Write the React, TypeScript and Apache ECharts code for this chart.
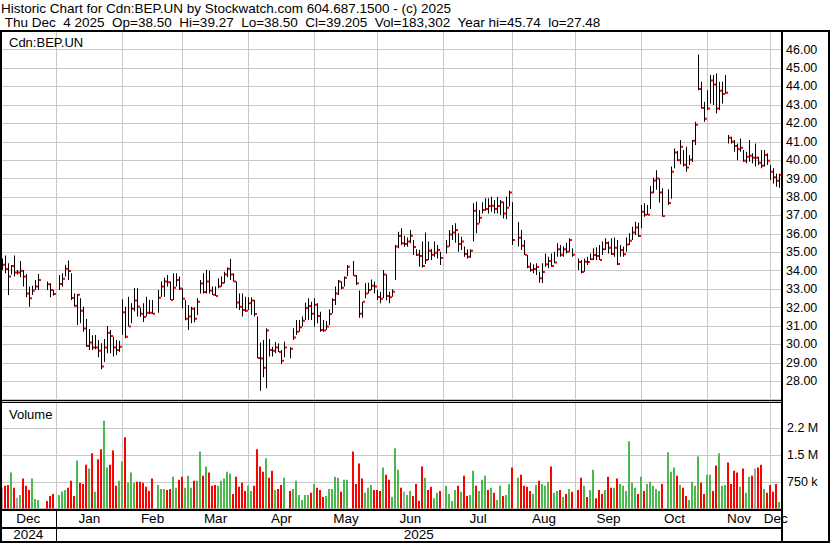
import React, { useEffect, useRef } from "react";
import * as echarts from "echarts";

const FONT = '"Liberation Sans", Arial, Helvetica, sans-serif';

const TITLE_LINE = "Historic Chart for Cdn:BEP.UN by Stockwatch.com 604.687.1500 - (c) 2025";
const INFO_LINE =
  "\u00a0Thu Dec\u00a0 4 2025\u00a0 Op=38.50\u00a0 Hi=39.27\u00a0 Lo=38.50\u00a0 Cl=39.205\u00a0 Vol=183,302\u00a0 Year hi=45.74\u00a0 lo=27.48";
const SYMBOL_LABEL = "Cdn:BEP.UN";
const VOLUME_LABEL = "Volume";

const FIRST_DAY = "2024-12-06";
const LAST_DAY = "2025-12-04";
const holidays = [
  "2024-12-25", "2024-12-26", "2025-01-01", "2025-02-17", "2025-04-18",
  "2025-05-19", "2025-07-01", "2025-08-04", "2025-09-01", "2025-10-13",
];

const monthLabels = ["Dec", "Jan", "Feb", "Mar", "Apr", "May", "Jun", "Jul", "Aug", "Sep", "Oct", "Nov", "Dec"];
const yearLabels = ["2024", "2025"];

const priceTicks = [28, 29, 30, 31, 32, 33, 34, 35, 36, 37, 38, 39, 40, 41, 42, 43, 44, 45, 46];
const volumeTicks = [750000, 1500000, 2250000];
const volumeTickLabels = ["750 k", "1.5 M", "2.2 M"];

// one value per trading day (Dec 6 2024 .. Dec 4 2025)
const highs = [
  34.67, 34.82, 34.40, 34.31, 34.82, 34.04, 34.53, 34.04, 33.82, 33.14, 33.19, 33.50, 33.82, 33.41, 33.32, 32.96,
  33.77, 33.86, 34.31, 34.55, 33.86, 32.77, 32.74, 32.50, 32.05, 31.38, 30.84, 30.50, 30.51, 30.24, 30.06, 30.30, 31.00, 30.78, 30.42, 30.24, 30.20, 32.45,
  32.05, 32.59, 32.23, 33.06, 33.05, 32.00, 32.23, 32.59, 32.41, 32.41, 32.96, 33.41, 33.62, 33.77, 33.41, 33.86, 33.86, 33.68, 33.05,
  32.41, 32.14, 32.05, 32.00, 32.50, 33.50, 33.86, 34.04, 34.00, 33.14, 33.14, 33.59, 33.68, 33.95, 34.18, 34.64, 33.86, 33.41, 32.77, 32.77, 32.59,
  32.56, 32.56, 32.41, 31.51, 30.10, 30.24, 30.88, 30.30, 29.88, 30.13, 30.06, 29.70, 30.15, 29.84, 30.88, 31.33, 31.33, 31.51, 32.27, 32.50, 32.32,
  32.50, 32.23, 31.78, 31.33, 31.27, 31.91, 32.50, 33.14, 33.50, 33.41, 33.68, 34.31, 34.53, 33.77, 32.92, 32.32, 33.32, 33.35, 33.53, 33.41, 32.95,
  32.86, 34.04, 33.80, 32.86, 32.99, 35.40, 36.12, 36.30, 35.90, 35.80, 36.21, 35.67, 35.16, 35.12, 35.58, 36.08, 35.58, 35.18, 35.58, 35.40, 35.03,
  35.67, 36.21, 36.48, 36.57, 36.03, 35.85, 35.31, 35.16, 35.16, 37.66, 37.75, 37.29, 37.71, 37.93, 37.93, 38.02, 37.84, 38.02, 37.84, 37.75, 38.02, 38.34,
  37.71, 36.63, 36.21, 35.67, 34.85, 34.44, 34.35, 34.40, 33.95, 34.40, 34.94, 34.76, 34.94, 35.03, 35.49, 35.40, 35.31, 35.52, 35.76, 35.22,
  34.67, 34.58, 34.67, 34.76, 34.94, 35.22, 35.27, 35.40, 35.58, 35.76, 35.58, 35.76, 35.81, 35.67, 35.40, 35.31, 35.81, 36.03, 36.39, 36.66, 36.61,
  37.57, 37.66, 37.57, 38.60, 39.04, 39.45, 39.01, 38.47, 38.42, 39.65, 40.64, 40.50, 41.09, 40.55, 40.73, 40.28, 41.09, 42.09, 45.74, 44.26, 43.17, 43.80,
  44.62, 44.62, 44.71, 44.26, 44.26, 44.62, 41.36, 41.27, 41.09, 40.91, 41.18, 40.55, 40.46, 41.09, 40.37, 40.91, 40.19, 40.55, 40.55, 40.37,
  39.74, 39.56, 39.28, 39.27,
];
const lows = [
  34.04, 33.86, 32.68, 33.80, 33.68, 33.80, 33.64, 33.14, 32.56, 32.05, 32.68, 32.96, 32.96, 32.96, 32.56, 32.66,
  32.96, 33.14, 33.68, 33.50, 32.41, 32.05, 31.06, 31.15, 30.69, 29.88, 29.70, 29.70, 29.74, 29.30, 28.65, 29.05, 29.52, 29.52, 29.34, 29.43, 29.60, 30.51,
  30.33, 30.97, 31.15, 31.80, 31.51, 31.50, 31.22, 31.51, 31.65, 31.65, 31.72, 32.59, 32.59, 33.14, 32.41, 32.41, 33.14, 32.96, 31.96,
  31.31, 30.78, 31.15, 31.20, 31.60, 32.77, 32.77, 32.77, 32.77, 32.68, 32.63, 33.05, 33.14, 33.32, 33.64, 33.50, 33.41, 31.96, 31.87, 31.51, 31.78,
  31.87, 31.60, 31.51, 29.25, 27.48, 28.22, 27.62, 29.34, 29.34, 29.52, 29.59, 28.94, 29.30, 29.25, 30.24, 30.51, 30.69, 30.97, 31.33, 31.33, 31.33,
  30.97, 31.15, 30.69, 30.69, 30.78, 31.06, 31.69, 32.14, 32.68, 32.99, 33.14, 33.71, 33.73, 33.23, 31.45, 31.45, 32.50, 32.77, 32.95, 32.77, 32.41,
  32.23, 32.50, 32.40, 32.23, 32.59, 33.50, 35.22, 35.40, 35.30, 35.30, 35.49, 34.85, 34.80, 34.22, 34.18, 34.37, 34.58, 34.58, 34.76, 34.67, 34.31,
  34.94, 35.31, 35.67, 35.52, 35.03, 35.12, 34.76, 34.67, 34.70, 35.58, 36.03, 36.57, 37.11, 37.26, 37.11, 37.20, 37.11, 37.11, 37.02, 36.84, 36.79, 37.48,
  35.40, 35.31, 35.12, 34.85, 34.13, 33.95, 33.86, 33.77, 33.35, 33.32, 34.22, 34.13, 34.22, 34.40, 34.76, 34.76, 34.76, 34.94, 35.03, 34.76,
  34.04, 33.86, 33.95, 34.31, 34.58, 34.58, 34.58, 34.58, 34.85, 35.12, 34.94, 34.85, 34.76, 34.31, 34.76, 34.76, 35.03, 35.40, 35.67, 35.94, 35.85,
  36.30, 36.93, 37.02, 37.35, 38.20, 38.40, 37.70, 36.93, 37.57, 37.90, 39.56, 39.95, 39.78, 39.65, 39.37, 39.74, 39.90, 40.82, 43.80, 42.81, 42.09, 42.72,
  43.08, 42.99, 42.54, 42.72, 43.08, 43.60, 40.91, 40.91, 40.46, 40.00, 40.46, 39.92, 39.83, 39.92, 39.83, 39.65, 39.74, 39.56, 39.65, 39.74,
  38.92, 38.74, 38.56, 38.50,
];
const closes = [
  34.33, 34.09, 33.68, 34.26, 33.90, 33.90, 34.00, 33.68, 32.77, 32.50, 32.92, 33.14, 33.50, 33.26, 32.96, 32.74,
  33.28, 33.57, 34.11, 33.99, 32.52, 32.10, 32.70, 31.83, 30.86, 29.92, 30.10, 29.83, 29.83, 29.66, 28.80, 29.83, 30.64, 30.46, 29.83, 29.70, 29.88, 31.74,
  30.42, 30.97, 31.94, 32.38, 32.05, 31.67, 31.49, 31.72, 31.72, 31.67, 32.54, 33.14, 33.41, 33.37, 32.41, 33.08, 33.50, 33.03, 32.48,
  31.40, 31.51, 31.94, 31.40, 32.32, 33.30, 32.85, 33.41, 32.92, 32.70, 32.63, 33.14, 33.33, 33.79, 34.11, 33.80, 33.41, 32.27, 32.05, 31.87, 31.83,
  32.23, 32.38, 31.65, 29.27, 29.23, 28.74, 30.75, 29.70, 29.65, 29.83, 29.59, 29.12, 29.83, 29.77, 30.37, 30.69, 30.93, 31.29, 31.98, 32.09, 31.67,
  32.16, 31.54, 30.78, 30.75, 30.97, 31.65, 32.41, 32.77, 33.41, 33.08, 33.62, 34.22, 33.73, 33.32, 31.67, 32.32, 32.77, 32.95, 33.19, 33.14, 32.58,
  32.48, 33.79, 32.63, 32.56, 32.86, 35.31, 35.88, 35.49, 35.45, 35.58, 35.90, 35.29, 34.87, 34.80, 34.26, 34.58, 35.09, 34.87, 34.98, 35.12, 34.69,
  35.31, 35.96, 36.07, 36.21, 35.45, 35.58, 34.91, 34.76, 35.09, 37.26, 36.55, 36.88, 37.29, 37.35, 37.51, 37.53, 37.35, 37.51, 37.71, 37.10, 37.42, 38.24,
  35.67, 35.79, 35.36, 34.87, 34.22, 34.04, 34.09, 34.20, 33.59, 33.93, 34.35, 34.53, 34.26, 34.44, 35.16, 34.87, 35.16, 35.03, 35.67, 34.87,
  34.47, 33.93, 34.49, 34.47, 34.62, 34.85, 34.80, 34.58, 35.16, 35.50, 35.25, 34.91, 35.25, 34.37, 35.12, 34.89, 35.43, 35.63, 36.08, 36.35, 35.88,
  37.20, 37.04, 37.04, 38.24, 38.90, 39.00, 38.24, 36.97, 37.67, 39.37, 40.41, 40.00, 40.73, 39.75, 39.60, 40.02, 41.06, 41.92, 43.86, 42.83, 42.25, 42.81,
  44.33, 44.11, 42.81, 43.77, 43.59, 43.66, 41.22, 41.00, 40.77, 40.59, 40.68, 39.97, 40.19, 40.24, 40.13, 40.13, 39.86, 39.70, 40.28, 39.97,
  39.37, 39.07, 38.89, 39.205,
];
// volume in thousands of shares
const volumesK = [
  590, 640, 660, 1010, 580, 300, 380, 840, 640, 520, 840, 270, 240, 210, 350, 410,
  380, 480, 520, 580, 780, 350, 1350, 720, 690, 1230, 1120, 1550, 470, 1380, 1660, 2460, 1150, 1230, 1630, 640, 780, 1320,
  2000, 720, 1010, 720, 750, 750, 720, 610, 490, 840, 660, 550, 550, 520, 550, 890, 580, 810, 890,
  580, 920, 580, 780, 780, 1600, 920, 1180, 1010, 640, 660, 640, 780, 840, 1030, 980, 410, 890, 610, 720, 490,
  640, 490, 640, 1660, 1180, 1030, 1410, 860, 1060, 520, 550, 660, 860, 490, 550, 780, 380, 240, 380, 380, 440,
  690, 580, 520, 320, 350, 550, 550, 890, 860, 470, 810, 810, 1600, 690, 1260, 840, 440, 580, 660, 520, 520,
  490, 1150, 950, 810, 320, 1690, 1090, 580, 470, 380, 490, 350, 690, 220, 1180, 860, 520, 610, 290, 440, 490,
  640, 410, 210, 520, 640, 470, 920, 350, 380, 1060, 640, 490, 810, 920, 520, 580, 440, 240, 640, 350, 380, 690,
  1150, 860, 950, 640, 610, 490, 410, 660, 780, 690, 640, 750, 1180, 440, 490, 520, 320, 410, 550, 470,
  520, 860, 640, 320, 520, 1090, 290, 520, 410, 520, 890, 580, 580, 840, 690, 640, 490, 1890, 720, 580, 410,
  890, 490, 690, 750, 640, 550, 490, 690, 1580, 1030, 1150, 920, 660, 580, 350, 240, 750, 640, 1460, 720, 410, 950,
  950, 490, 1210, 1550, 640, 660, 1290, 690, 1060, 1010, 610, 1120, 440, 890, 920, 1120, 1150, 1230, 550, 440,
  660, 470, 690, 183,
];
// volume bar colour: u = up (green), d = down (red), n = unchanged (grey)
const moves = [
  "n d d u d n u d d d u u u d d d",
  "u u u d d d u d d d u d u d d u u d d d u u",
  "d u u u d d d d d d u u u d d u u d d",
  "u u u d u u d u d d d u u u u u d d d d d",
  "u u d d d d u d d u d d u d u u u u u u d",
  "u d d d u u u u u d u u d d d d u u u d d",
  "d u d d u u u d n u u d d d d u d d u u d",
  "u u u u d u d d u u d u u u d u d u u d u u",
  "d u d d d d u u d u u u d u u d u d u d",
  "d d u d u u d d d u d d u d u u u u u u d",
  "u d u u u u u d u u u d u d d u u u u d d u",
  "u d d u u u d d d d u d u u d n d d u d",
  "d d d u",
].join(" ").split(" ");

const DAY = 86400000;
function isoDay(t: number) {
  return new Date(t).toISOString().slice(0, 10);
}
function buildWeekdays(first: string, last: string) {
  const out: string[] = [];
  const end = Date.parse(last + "T00:00:00Z");
  for (let t = Date.parse(first + "T00:00:00Z"); t <= end; t += DAY) {
    const wd = new Date(t).getUTCDay();
    if (wd !== 0 && wd !== 6) out.push(isoDay(t));
  }
  return out;
}
function monthBoundary(year: number, month: number) {
  let t = Date.UTC(year, month, 1);
  while ([0, 6].includes(new Date(t).getUTCDay())) t -= DAY;
  return isoDay(t);
}

const weekdays = buildWeekdays(FIRST_DAY, LAST_DAY);
const tradingDays = weekdays.filter((d) => !holidays.includes(d));
const monthStarts = Array.from({ length: 12 }, (_, m) => monthBoundary(2025, m));

const GREEN = "#4db84d";
const RED = "#ff0000";
const GREY = "#a6a6a6";
const GRID = "#c8c8c8";

export default function App() {
  const ref = useRef<HTMLDivElement>(null);

  useEffect(() => {
    if (!ref.current) return;
    const chart = echarts.init(ref.current, null, { renderer: "svg", width: 830, height: 543 });

    const priceData = tradingDays.map((d, k) => [weekdays.indexOf(d), highs[k], lows[k], closes[k]]);
    const volData = tradingDays.map((d, k) => [
      weekdays.indexOf(d),
      volumesK[k] * 1000,
      moves[k] === "u" ? 1 : moves[k] === "d" ? 0 : 2,
    ]);

    const hiddenX = (gridIndex: number) => ({
      type: "category",
      gridIndex,
      data: weekdays,
      boundaryGap: true,
      axisLine: { show: false },
      axisTick: { show: false },
      axisLabel: { show: false },
      splitLine: { show: false },
    });

    chart.setOption({
      animation: false,
      backgroundColor: "#ffffff",
      grid: [
        { left: 1, right: 49, top: 31.2, height: 368.5 },
        { left: 1, right: 49, top: 401.6, height: 106.9 },
      ],
      xAxis: [hiddenX(0), hiddenX(1)],
      yAxis: [
        {
          type: "value",
          gridIndex: 0,
          position: "right",
          min: 27,
          max: 47,
          interval: 1,
          axisLine: { show: false },
          axisTick: { show: false },
          splitLine: { show: true, lineStyle: { color: GRID, width: 1 } },
          axisLabel: {
            margin: 5,
            color: "#000",
            fontSize: 12.5,
            fontFamily: FONT,
            padding: [0, 0, 2.4, 0],
            formatter: (v: number) => (priceTicks.includes(Math.round(v)) ? v.toFixed(2) : ""),
          },
        },
        {
          type: "value",
          gridIndex: 1,
          position: "right",
          min: 0,
          max: 3000000,
          interval: 750000,
          axisLine: { show: false },
          axisTick: { show: false },
          splitLine: { show: true, lineStyle: { color: GRID, width: 1 } },
          axisLabel: {
            margin: 6,
            color: "#000",
            fontSize: 12.5,
            fontFamily: FONT,
            formatter: (v: number) => {
              const k = volumeTicks.indexOf(v);
              return k >= 0 ? volumeTickLabels[k] : "";
            },
          },
        },
      ],
      series: [
        {
          type: "custom",
          xAxisIndex: 0,
          yAxisIndex: 0,
          z: 5,
          encode: { x: 0, y: [1, 2, 3] },
          data: priceData,
          renderItem: (_params: any, api: any) => {
            const xi = api.value(0);
            const top = api.coord([xi, api.value(1)]);
            const bot = api.coord([xi, api.value(2)]);
            const cl = api.coord([xi, api.value(3)]);
            const cx = top[0];
            return {
              type: "group",
              children: [
                {
                  type: "rect",
                  shape: { x: cx - 0.5, y: top[1], width: 1, height: Math.max(1, bot[1] - top[1]) },
                  style: { fill: "#000" },
                },
                {
                  type: "rect",
                  shape: { x: cx + 0.5, y: cl[1] - 1, width: 2, height: 2 },
                  style: { fill: RED },
                },
              ],
            };
          },
        },
        {
          type: "custom",
          xAxisIndex: 1,
          yAxisIndex: 1,
          z: 5,
          encode: { x: 0, y: 1 },
          data: volData,
          renderItem: (_params: any, api: any) => {
            const xi = api.value(0);
            const top = api.coord([xi, api.value(1)]);
            const base = api.coord([xi, 0]);
            const m = api.value(2);
            return {
              type: "rect",
              shape: { x: top[0] - 1.5, y: top[1], width: 2, height: base[1] - top[1] },
              style: { fill: m === 1 ? GREEN : m === 0 ? RED : GREY },
            };
          },
        },
      ],
    });

    const px = (day: string) => chart.convertToPixel({ xAxisIndex: 0 }, weekdays.indexOf(day)) as number;
    const band = px(weekdays[1]) - px(weekdays[0]);
    const leftEdge = 0;
    const rightEdge = px(weekdays[weekdays.length - 1]) + band / 2;
    const bounds = monthStarts.map(px);
    const edges = [leftEdge, ...bounds, rightEdge];

    const elements: any[] = [];
    // vertical month grid lines
    bounds.forEach((x) => {
      elements.push({
        type: "rect",
        z: 0,
        silent: true,
        shape: { x: Math.floor(x), y: 32, width: 1, height: 477 },
        style: { fill: GRID },
      });
    });
    // month labels
    monthLabels.forEach((label, k) => {
      elements.push({
        type: "text",
        z: 120,
        x: (edges[k] + edges[k + 1]) / 2,
        y: 518.6,
        style: { text: label, fontSize: 13.5, fontFamily: FONT, fill: "#000", align: "center", verticalAlign: "middle" },
      });
    });
    // year labels
    const yearEdges = [leftEdge, bounds[0], rightEdge];
    yearLabels.forEach((label, k) => {
      elements.push({
        type: "text",
        z: 120,
        x: (yearEdges[k] + yearEdges[k + 1]) / 2,
        y: 534.3,
        style: { text: label, fontSize: 13.5, fontFamily: FONT, fill: "#000", align: "center", verticalAlign: "middle" },
      });
    });
    // frame
    const frame = [
      { x: 0, y: 30, width: 830, height: 2 },
      { x: 0, y: 30, width: 2, height: 513 },
      { x: 828, y: 30, width: 2, height: 513 },
      { x: 781, y: 30, width: 2, height: 513 },
      { x: 0, y: 541, width: 830, height: 2 },
      { x: 0, y: 400, width: 782, height: 1 },
      { x: 0, y: 402, width: 782, height: 1 },
      { x: 0, y: 509, width: 782, height: 2 },
      { x: 0, y: 527, width: 782, height: 2 },
      { x: Math.floor(bounds[0]), y: 510, width: 1, height: 32 },
    ];
    frame.forEach((r) => {
      elements.push({ type: "rect", z: 100, silent: true, shape: r, style: { fill: "#000" } });
    });
    // texts
    const texts = [
      { text: TITLE_LINE, x: 1, y: 8.6, size: 13.5 },
      { text: INFO_LINE, x: 1, y: 22.6, size: 13.5 },
      { text: SYMBOL_LABEL, x: 9, y: 42.2, size: 13 },
      { text: VOLUME_LABEL, x: 9, y: 414.5, size: 13 },
    ];
    texts.forEach((t) => {
      elements.push({
        type: "text",
        z: 120,
        x: t.x,
        y: t.y,
        style: { text: t.text, fontSize: t.size, fontFamily: FONT, fill: "#000", align: "left", verticalAlign: "middle" },
      });
    });

    chart.setOption({ graphic: { elements } });

    return () => chart.dispose();
  }, []);

  return (
    <div
      ref={ref}
      style={{ position: "fixed", left: 0, top: 0, width: 830, height: 543, background: "#fff" }}
    />
  );
}
